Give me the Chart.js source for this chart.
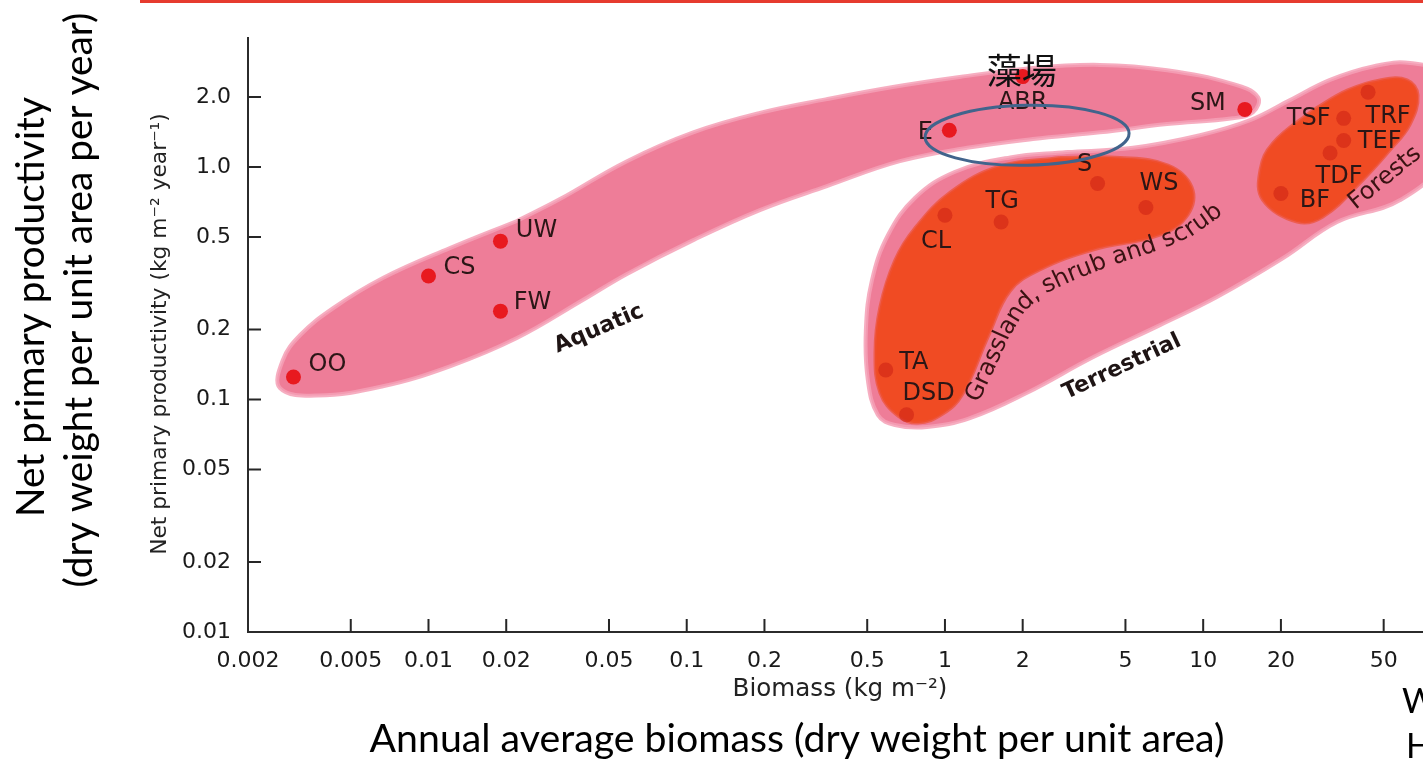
<!DOCTYPE html>
<html>
<head>
<meta charset="utf-8">
<script src="https://cdn.jsdelivr.net/npm/chart.js@4.4.1/dist/chart.umd.min.js"></script>
<style>
  body { margin: 0; background: #fff; }
  canvas { display: block; }
</style>
</head>
<body>
<canvas id="myChart" width="1423" height="760"></canvas>
<script>
// ecosystem points: biomass (kg m-2) and net primary productivity (kg m-2 yr-1)
const siteCodes = ["OO", "CS", "UW", "FW", "E", "ABR", "SM", "S", "WS", "TG", "CL", "TA", "DSD", "TRF", "TSF", "TEF", "TDF", "BF"];
const siteBiomass = [0.003, 0.01, 0.019, 0.019, 1.04, 2.0, 14.5, 3.9, 6.0, 1.65, 1.0, 0.59, 0.71, 43.5, 35, 35, 31, 20];
const siteNpp = [0.125, 0.34, 0.48, 0.24, 1.44, 2.45, 1.77, 0.85, 0.67, 0.58, 0.62, 0.134, 0.086, 2.1, 1.62, 1.3, 1.15, 0.77];
// sites sitting inside the dark (orange) areas
const darkSites = ["S", "WS", "TG", "CL", "TA", "DSD", "TRF", "TSF", "TEF", "TDF", "BF"];

// outlines of the shaded envelopes, same units as the points
const aquaticX = [0.022, 0.0323, 0.0587, 0.106, 0.192, 0.349, 0.629, 1.14, 2.19, 3.98, 7.24, 13.0, 16.3, 15.6, 13.0, 7.24, 3.98, 2.19, 1.22, 0.669, 0.349, 0.192, 0.106, 0.0587, 0.0396, 0.022, 0.0121, 0.00666, 0.0037, 0.00266, 0.00273, 0.00318, 0.00427, 0.00666, 0.0121];
const aquaticY = [0.586, 0.728, 1.06, 1.41, 1.71, 1.96, 2.21, 2.44, 2.67, 2.75, 2.61, 2.28, 2.0, 1.72, 1.62, 1.53, 1.41, 1.32, 1.21, 1.06, 0.828, 0.653, 0.485, 0.347, 0.268, 0.184, 0.139, 0.114, 0.104, 0.112, 0.148, 0.189, 0.247, 0.333, 0.448];
const terrX = [2.97, 5.35, 9.72, 15.2, 21.7, 31.0, 46.3, 63.2, 82.6, 82.6, 57.9, 33.0, 20.4, 11.3, 6.8, 3.74, 2.08, 1.25, 0.852, 0.64, 0.55, 0.503, 0.494, 0.522, 0.602, 0.765, 1.09, 1.79];
const terrY = [1.16, 1.21, 1.37, 1.59, 1.94, 2.37, 2.72, 2.80, 2.49, 1.07, 0.721, 0.58, 0.406, 0.276, 0.209, 0.152, 0.107, 0.0832, 0.0762, 0.0777, 0.0858, 0.121, 0.199, 0.327, 0.51, 0.736, 0.952, 1.10];
const grassX = [2.79, 4.76, 7.31, 9.05, 8.73, 6.8, 3.74, 2.33, 1.79, 1.47, 1.17, 0.982, 0.786, 0.658, 0.56, 0.536, 0.56, 0.64, 0.765, 1.05, 1.63];
const grassY = [1.10, 1.10, 1.02, 0.82, 0.622, 0.51, 0.44, 0.361, 0.293, 0.186, 0.105, 0.0866, 0.0792, 0.0849, 0.107, 0.159, 0.25, 0.398, 0.547, 0.781, 1.01];
const forestX = [26.6, 36.1, 48.4, 61.6, 67.9, 63.2, 52.9, 41.6, 29.1, 23.1, 17.0, 16.6, 18.6];
const forestY = [1.76, 2.14, 2.37, 2.37, 2.04, 1.52, 1.18, 0.879, 0.61, 0.58, 0.721, 0.971, 1.27];

// axis ticks
const xTicks = [0.002, 0.005, 0.01, 0.02, 0.05, 0.1, 0.2, 0.5, 1, 2, 5, 10, 20, 50];
const xTickLabels = ["0.002", "0.005", "0.01", "0.02", "0.05", "0.1", "0.2", "0.5", "1", "2", "5", "10", "20", "50"];
const yTicks = [0.01, 0.02, 0.05, 0.1, 0.2, 0.5, 1, 2];
const yTickLabels = ["0.01", "0.02", "0.05", "0.1", "0.2", "0.5", "1.0", "2.0"];

// texts
const xInnerTitle = "Biomass (kg m\u207B\u00B2)";
const yInnerTitle = "Net primary productivity (kg m\u207B\u00B2 year\u207B\u00B9)";
const xOuterTitle = "Annual average biomass (dry weight per unit area)";
const yOuterTitle = ["Net primary productivity", "(dry weight per unit area per year)"];
const seaweedNote = "藻場";
const highlightCenter = { x: 2.08, y: 1.37 }; // the blue ring, around E / ABR

// label offsets from each dot, in pixels
const labelOffset = {
  OO: [34, -12], CS: [31, -8], UW: [36, -10], FW: [32, -8], E: [-24, 3], ABR: [0, 26],
  SM: [-37, -6], S: [-13, -19], WS: [13, -24], TG: [1, -20], CL: [-9, 26], TA: [28, -7],
  DSD: [22, -21], TRF: [20, 25], TSF: [-35, 0], TEF: [36, 1], TDF: [9, 24], BF: [34, 7]
};

function closedShape(xs, ys) {
  const p = xs.map((x, i) => ({ x: x, y: ys[i] }));
  p.push(p[0]);
  return p;
}

function fitSize(ctx, text, width, family, weight) {
  ctx.font = weight + " 100px '" + family + "'";
  return 100 * width / ctx.measureText(text).width;
}

function drawFitted(ctx, text, x, y, width, angle, family, weight, color) {
  const size = fitSize(ctx, text, width, family, weight);
  ctx.save();
  ctx.font = weight + " " + size + "px '" + family + "'";
  ctx.fillStyle = color;
  ctx.textAlign = "center";
  ctx.textBaseline = "middle";
  ctx.translate(x, y);
  ctx.rotate(angle * Math.PI / 180);
  ctx.fillText(text, 0, 0);
  ctx.restore();
}

// place characters one by one along a polyline
function textOnPath(ctx, text, path, size, color) {
  const seg = [];
  let total = 0;
  for (let i = 1; i < path.length; i++) {
    const dx = path[i][0] - path[i - 1][0], dy = path[i][1] - path[i - 1][1];
    const l = Math.hypot(dx, dy);
    seg.push({ x0: path[i - 1][0], y0: path[i - 1][1], dx, dy, l, s: total });
    total += l;
  }
  ctx.save();
  ctx.font = size + "px 'DejaVu Sans'";
  ctx.fillStyle = color;
  ctx.textAlign = "center";
  ctx.textBaseline = "middle";
  let s = (total - ctx.measureText(text).width) / 2;
  for (const ch of text) {
    const cw = ctx.measureText(ch).width;
    const mid = s + cw / 2;
    let k = seg.findIndex(g => mid <= g.s + g.l);
    if (k < 0) k = seg.length - 1;
    const g = seg[k];
    const t = (mid - g.s) / g.l;
    ctx.save();
    ctx.translate(g.x0 + g.dx * t, g.y0 + g.dy * t);
    ctx.rotate(Math.atan2(g.dy, g.dx));
    ctx.fillText(ch, 0, 0);
    ctx.restore();
    s += cw;
  }
  ctx.restore();
}

// inward tick marks on both axes
const axisTicks = {
  id: "axisTicks",
  beforeDatasetsDraw(chart) {
    const { ctx, chartArea: a, scales: { x, y } } = chart;
    ctx.save();
    ctx.strokeStyle = "#262626";
    ctx.lineWidth = 2;
    ctx.beginPath();
    x.ticks.forEach(t => {
      if (t.value === x.min) return;
      const px = x.getPixelForValue(t.value);
      ctx.moveTo(px, a.bottom);
      ctx.lineTo(px, a.bottom - 13);
    });
    y.ticks.forEach(t => {
      if (t.value === y.min) return;
      const py = y.getPixelForValue(t.value);
      ctx.moveTo(a.left, py);
      ctx.lineTo(a.left + 13, py);
    });
    ctx.stroke();
    // thin red rule along the top of the scan
    ctx.fillStyle = "#e63b2e";
    ctx.fillRect(140, 0, chart.width - 140, 3);
    ctx.restore();
  }
};

// point labels, region names, titles and the highlight ring
const annotations = {
  id: "annotations",
  afterDatasetsDraw(chart) {
    const { ctx, scales: { x, y } } = chart;
    const dots = chart.getDatasetMeta(0).data;

    ctx.save();
    ctx.font = "24px 'DejaVu Sans'";
    ctx.fillStyle = "#2b1616";
    ctx.textAlign = "center";
    ctx.textBaseline = "middle";
    siteCodes.forEach((c, i) => {
      const o = labelOffset[c];
      ctx.fillText(c, dots[i].x + o[0], dots[i].y + o[1]);
    });
    ctx.restore();

    drawFitted(ctx, "Aquatic", 599, 329, 95, -23, "DejaVu Sans", "bold", "#1e1414");
    drawFitted(ctx, "Terrestrial", 1122, 367, 128, -25, "DejaVu Sans", "bold", "#1e1414");
    drawFitted(ctx, "Forests", 1385, 178, 86, -39, "DejaVu Sans", "normal", "#3a1212");
    textOnPath(ctx, "Grassland, shrub and scrub",
      [[972, 402], [988, 368], [1003, 335], [1020, 307], [1040, 289], [1070, 275],
       [1100, 263], [1130, 253], [1160, 243], [1190, 230], [1221, 208]], 24, "#3a1212");

    // axis titles of the original figure
    drawFitted(ctx, yInnerTitle, 160, 334, 442, -90, "DejaVu Sans", "normal", "#222");
    drawFitted(ctx, xInnerTitle, 840, 690, 215, 0, "DejaVu Sans", "normal", "#222");
    // slide titles
    drawFitted(ctx, yOuterTitle[0], 31, 307, 420, -90, "Lato", "normal", "#000");
    drawFitted(ctx, yOuterTitle[1], 79, 300, 575, -90, "Lato", "normal", "#000");
    drawFitted(ctx, xOuterTitle, 797, 739, 855, 0, "Lato", "normal", "#000");
    ctx.save();
    ctx.font = "34px 'Lato'";
    ctx.fillStyle = "#000";
    ctx.fillText("W", 1402, 713);
    ctx.fillText("H", 1406, 758);
    ctx.restore();

    // blue ring
    const cx = x.getPixelForValue(highlightCenter.x);
    const cy = y.getPixelForValue(highlightCenter.y);
    ctx.save();
    ctx.strokeStyle = "#41648c";
    ctx.lineWidth = 3;
    ctx.beginPath();
    ctx.ellipse(cx, cy, 102, 30, -0.02, 0, Math.PI * 2);
    ctx.stroke();
    ctx.restore();

    // seaweed-bed note above ABR
    const abr = dots[siteCodes.indexOf("ABR")];
    ctx.save();
    ctx.font = "35px 'Noto Sans CJK JP'";
    ctx.fillStyle = "#111";
    ctx.textAlign = "center";
    ctx.textBaseline = "middle";
    ctx.fillText(seaweedNote, abr.x - 1, abr.y - 6);
    ctx.restore();
  }
};

Chart.defaults.font.family = "'DejaVu Sans'";

const regionStyle = {
  showLine: true,
  fill: "shape",
  tension: 0.4,
  pointRadius: 0,
  pointHoverRadius: 0
};

const ctx = document.getElementById("myChart");
new Chart(ctx, {
  type: "scatter",
  data: {
    datasets: [
      {
        label: "sites",
        data: siteBiomass.map((b, i) => ({ x: b, y: siteNpp[i] })),
        pointRadius: 7.5,
        pointBorderWidth: 0,
        pointBackgroundColor: siteCodes.map(c => darkSites.includes(c) ? "rgba(200,28,18,0.5)" : "#e8191f")
      },
      Object.assign({
        label: "forests",
        data: closedShape(forestX, forestY),
        backgroundColor: "#f04b23",
        borderColor: "rgba(238,80,50,0.7)",
        borderWidth: 3
      }, regionStyle),
      Object.assign({
        label: "grassland",
        data: closedShape(grassX, grassY),
        backgroundColor: "#f04b23",
        borderColor: "rgba(238,80,50,0.7)",
        borderWidth: 3
      }, regionStyle),
      Object.assign({
        label: "terrestrial",
        data: closedShape(terrX, terrY),
        backgroundColor: "#ee7d98",
        borderColor: "rgba(244,160,182,0.85)",
        borderWidth: 4
      }, regionStyle),
      Object.assign({
        label: "aquatic",
        data: closedShape(aquaticX, aquaticY),
        backgroundColor: "#ee7d98",
        borderColor: "rgba(244,160,182,0.85)",
        borderWidth: 4
      }, regionStyle)
    ]
  },
  options: {
    responsive: false,
    animation: false,
    events: [],
    layout: { autoPadding: false, padding: { top: 38, left: 0, right: 0, bottom: 0 } },
    plugins: { legend: { display: false }, tooltip: { enabled: false } },
    scales: {
      x: {
        type: "logarithmic",
        min: 0.002,
        max: 71,
        grid: { display: false },
        border: { display: true, color: "#2b2b2b", width: 2 },
        afterBuildTicks: s => { s.ticks = xTicks.map(v => ({ value: v })); },
        afterFit: s => { s.height = 128; },
        ticks: {
          autoSkip: false,
          maxRotation: 0,
          padding: 8,
          color: "#1a1a1a",
          font: { size: 22 },
          callback: (v, i) => xTickLabels[i]
        }
      },
      y: {
        type: "logarithmic",
        min: 0.01,
        max: 3.59,
        grid: { display: false },
        border: { display: true, color: "#2b2b2b", width: 2 },
        afterBuildTicks: s => { s.ticks = yTicks.map(v => ({ value: v })); },
        afterFit: s => { s.width = 248; },
        ticks: {
          autoSkip: false,
          padding: 9,
          color: "#1a1a1a",
          font: { size: 22 },
          callback: (v, i) => yTickLabels[i]
        }
      }
    }
  },
  plugins: [axisTicks, annotations]
});
</script>
</body>
</html>
